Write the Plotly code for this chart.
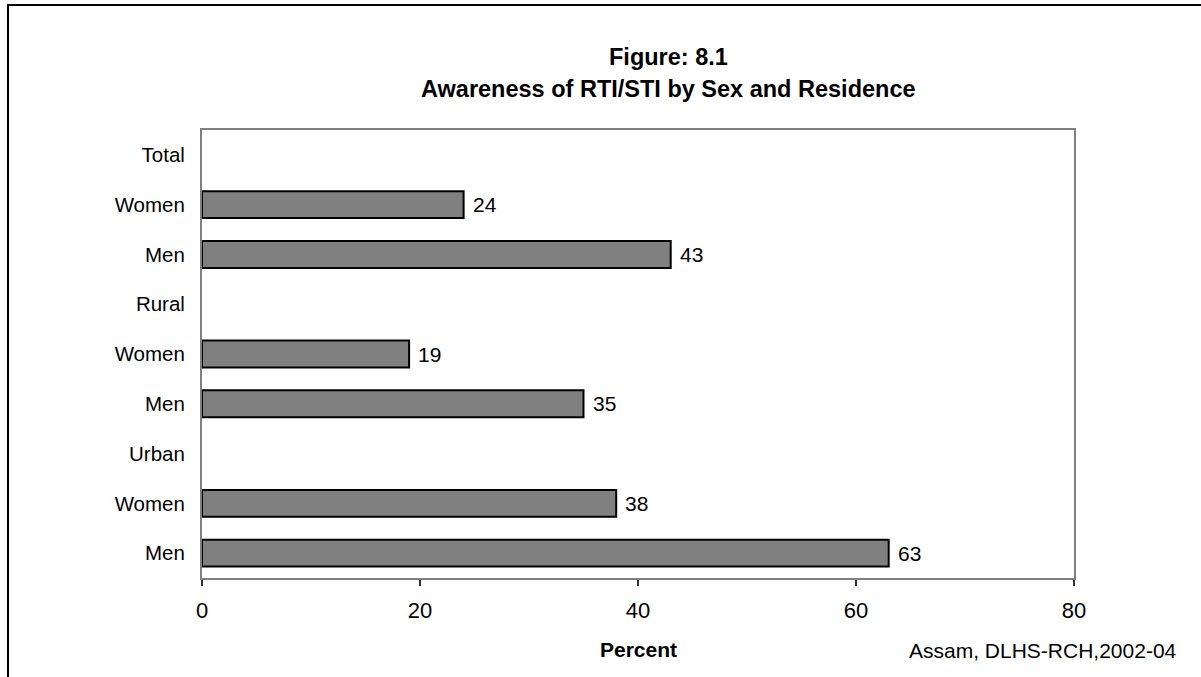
import plotly.graph_objects as go

# Rows listed top to bottom; group headers carry no value
categories = ["Total", "Women", "Men", "Rural", "Women", "Men", "Urban", "Women", "Men"]
values = [None, 24, 43, None, 19, 35, None, 38, 63]
x_ticks = [0, 20, 40, 60, 80]

FONT = "Liberation Sans, Arial, sans-serif"
W, H = 1201, 677
L, R, T, B = 202, 127, 130, 99
pw, ph = W - L - R, H - T - B


def px_x(p):
    return (p - L) / pw


def px_y(p):
    return (H - B - p) / ph


positions = list(range(len(categories)))

fig = go.Figure(
    go.Bar(
        x=values,
        y=positions,
        orientation="h",
        width=0.54,
        marker=dict(color="#808080", line=dict(color="#000000", width=2)),
        hoverinfo="skip",
    )
)

# value labels just past the end of each bar
value_labels = [
    dict(x=v, y=p, xref="x", yref="y", text=str(v), showarrow=False,
         xanchor="left", yanchor="middle", xshift=7,
         font=dict(family=FONT, size=21, color="#000000"))
    for v, p in zip(values, positions) if v is not None
]

fig.update_layout(
    width=W,
    height=H,
    margin=dict(l=L, r=R, t=T, b=B),
    paper_bgcolor="white",
    plot_bgcolor="white",
    showlegend=False,
    font=dict(family=FONT, size=20, color="#000000"),
    xaxis=dict(
        range=[0, 80],
        tickvals=x_ticks,
        ticks="outside",
        ticklen=6,
        tickwidth=1.5,
        tickcolor="#333333",
        ticklabelstandoff=6,
        showgrid=False,
        zeroline=False,
        showline=True,
        linecolor="#808080",
        linewidth=2,
        mirror=True,
        tickfont=dict(family=FONT, size=22, color="#000000"),
    ),
    yaxis=dict(
        range=[len(categories) - 0.5, -0.5],
        tickvals=positions,
        ticktext=categories,
        ticks="",
        ticklabelstandoff=11,
        showgrid=False,
        zeroline=False,
        showline=True,
        linecolor="#808080",
        linewidth=2,
        mirror=True,
        tickfont=dict(family=FONT, size=20.5, color="#000000"),
    ),
    annotations=value_labels + [
        dict(text="<b>Figure: 8.1</b>", x=px_x(668), y=px_y(57), xref="paper", yref="paper",
             xanchor="center", yanchor="middle", showarrow=False,
             font=dict(family=FONT, size=23.5, color="#000000")),
        dict(text="<b>Awareness of RTI/STI by Sex and Residence</b>", x=px_x(668), y=px_y(89),
             xref="paper", yref="paper", xanchor="center", yanchor="middle", showarrow=False,
             font=dict(family=FONT, size=23.5, color="#000000")),
        dict(text="<b>Percent</b>", x=px_x(638), y=px_y(649), xref="paper", yref="paper",
             xanchor="center", yanchor="middle", showarrow=False,
             font=dict(family=FONT, size=21, color="#000000")),
        dict(text="Assam, DLHS-RCH,2002-04", x=px_x(1179), y=px_y(650), xref="paper",
             yref="paper", xanchor="right", yanchor="middle", showarrow=False,
             font=dict(family=FONT, size=21, color="#000000")),
    ],
    shapes=[
        # frame around the whole chart (runs off the right and bottom edges)
        dict(type="rect", xref="paper", yref="paper",
             x0=px_x(8), x1=px_x(1215), y0=px_y(690), y1=px_y(5),
             line=dict(color="#000000", width=2), fillcolor="rgba(0,0,0,0)", layer="below"),
    ],
)

fig.write_html("out.html")
